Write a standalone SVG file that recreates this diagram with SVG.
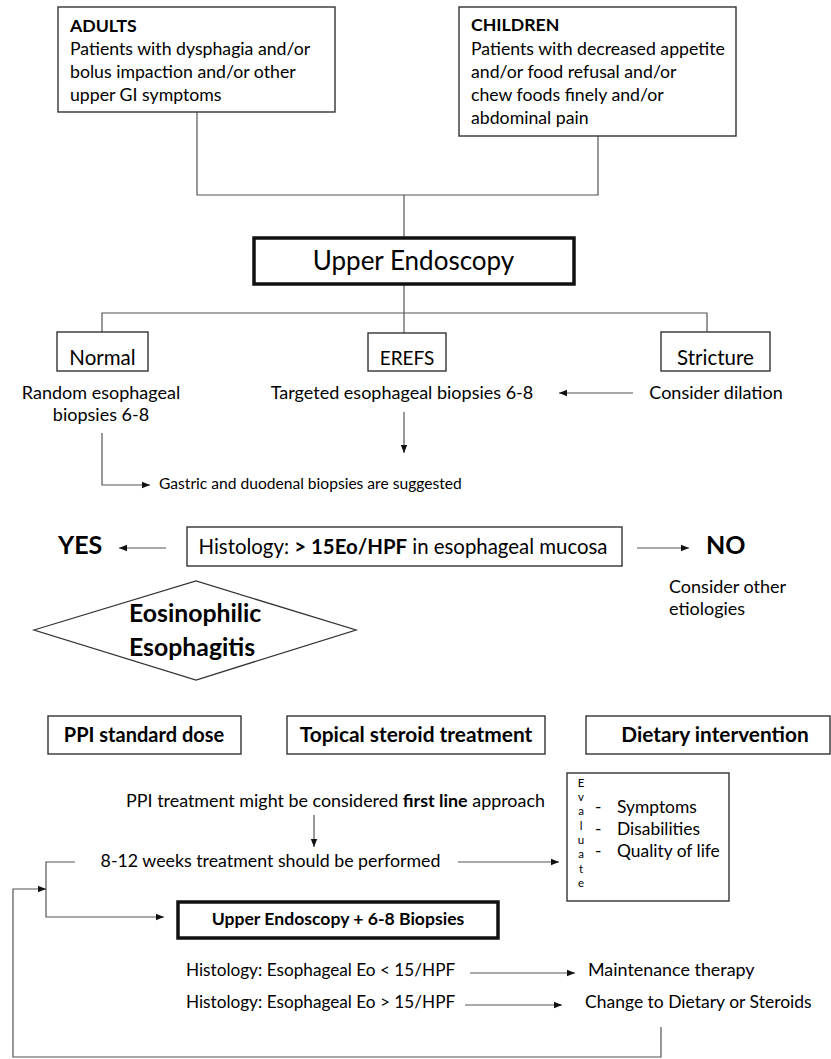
<svg xmlns="http://www.w3.org/2000/svg" width="831" height="1059" viewBox="0 0 831 1059">
<defs>
<style>
text{font-family:Lato,"Open Sans","Liberation Sans",sans-serif;fill:#000}
.box{fill:#fff;stroke:#333;stroke-width:1.4}
.thick{fill:#fff;stroke:#111;stroke-width:3.5}
.ln{fill:none;stroke:#555;stroke-width:1.2}
.arr{fill:none;stroke:#555;stroke-width:1.2;marker-end:url(#ah)}
.b{font-weight:bold}
.t16{font-size:17.7px}
.t20{font-size:20px}
.t18{font-size:18px}
.mid{text-anchor:middle}
</style>
<marker id="ah" viewBox="0 0 10 10" refX="10" refY="5" markerWidth="9" markerHeight="8" markerUnits="userSpaceOnUse" orient="auto"><path d="M0,1 L10,5 L0,9 z" fill="#111"/></marker>
</defs>
<rect width="831" height="1059" fill="#fff"/>

<g id="connectors">
<path class="ln" d="M197,112 V195 H598 V136"/>
<path class="ln" d="M404,195 V237"/>
<path class="ln" d="M404,285 V313"/>
<path class="ln" d="M102,332 V313 H707 V332"/>
<path class="ln" d="M404,313 V333"/>
<path class="arr" d="M633,393 H559"/>
<path class="arr" d="M404,412 V453"/>
<path class="arr" d="M102,433 V485 H150"/>
<path class="arr" d="M166,548 H119"/>
<path class="arr" d="M637,548 H689"/>
<path class="arr" d="M314,815 V847"/>
<path class="arr" d="M458,862 H559"/>
<path class="arr" d="M75,862 H46 V917 H164"/>
<path class="arr" d="M661,1027 V1057 H13 V889 H46"/>
<path class="arr" d="M470,973 H575"/>
<path class="arr" d="M465,1005 H562"/>
</g>

<g id="adults">
<rect class="box" x="58" y="7" width="277" height="105"/>
<text x="70" y="31.5" class="t16 b">ADULTS</text>
<text x="70" y="54.5" class="t16">Patients with dysphagia and/or</text>
<text x="70" y="77.5" class="t16">bolus impaction and/or other</text>
<text x="70" y="100.5" class="t16">upper GI symptoms</text>
</g>

<g id="children">
<rect class="box" x="459" y="7" width="277" height="129"/>
<text x="471" y="31" class="t16 b">CHILDREN</text>
<text x="471" y="54.5" class="t16">Patients with decreased appetite</text>
<text x="471" y="77.5" class="t16">and/or food refusal and/or</text>
<text x="471" y="100.5" class="t16">chew foods finely and/or</text>
<text x="471" y="123.5" class="t16">abdominal pain</text>
</g>

<g id="upper-endoscopy">
<rect class="thick" x="254" y="238" width="320" height="46"/>
<text x="413.5" y="270" class="mid" font-size="26">Upper Endoscopy</text>
</g>

<g id="normal">
<rect class="box" x="57" y="332" width="91" height="39"/>
<text x="102.5" y="365" class="mid" font-size="20.5">Normal</text>
</g>
<g id="erefs">
<rect class="box" x="368" y="333" width="78" height="38"/>
<text x="407" y="365" class="mid" font-size="19">EREFS</text>
</g>
<g id="stricture">
<rect class="box" x="661" y="332" width="109" height="39"/>
<text x="715.5" y="365" class="mid" font-size="20.5">Stricture</text>
</g>

<g id="random-biopsies">
<text x="101" y="399" class="mid t18">Random esophageal</text>
<text x="101" y="421" class="mid t18">biopsies 6-8</text>
</g>
<g id="targeted-biopsies">
<text x="402" y="399" class="mid t18">Targeted esophageal biopsies 6-8</text>
</g>
<g id="consider-dilation">
<text x="716" y="399" class="mid t18">Consider dilation</text>
</g>
<g id="gastric">
<text x="159" y="489" font-size="15.6">Gastric and duodenal biopsies are suggested</text>
</g>

<g id="histology">
<rect class="box" x="187" y="527" width="435" height="39"/>
<text x="403" y="554" class="mid" font-size="20.4">Histology: <tspan class="b">&gt; 15Eo/HPF</tspan> in esophageal mucosa</text>
</g>
<g id="yes"><text x="58" y="554" class="b" font-size="25">YES</text></g>
<g id="no"><text x="706" y="554" class="b" font-size="25">NO</text></g>
<g id="other-etiologies">
<text x="669" y="593" class="t18">Consider other</text>
<text x="669" y="615" class="t18">etiologies</text>
</g>

<g id="eoe">
<polygon points="34,630 196,581 356,630 196,680" fill="#fff" stroke="#333" stroke-width="1.3"/>
<text x="129" y="622" class="b" font-size="24.8">Eosinophilic</text>
<text x="129" y="656" class="b" font-size="24.8">Esophagitis</text>
</g>

<g id="ppi-dose">
<rect class="box" x="48" y="716" width="193" height="38"/>
<text x="144" y="742" class="mid b t20">PPI standard dose</text>
</g>
<g id="topical">
<rect class="box" x="287" y="716" width="258" height="38"/>
<text x="416" y="742" class="mid b" font-size="20.9">Topical steroid treatment</text>
</g>
<g id="dietary">
<rect class="box" x="586" y="716" width="244" height="38"/>
<text x="715" y="742" class="mid b" font-size="20.8">Dietary intervention</text>
</g>

<g id="ppi-first">
<text x="335.5" y="807" class="mid" font-size="17.9">PPI treatment might be considered <tspan class="b">first line</tspan> approach</text>
</g>
<g id="weeks">
<text x="270.5" y="867" class="mid" font-size="17.8">8-12 weeks treatment should be performed</text>
</g>

<g id="evaluate">
<rect class="box" x="567" y="773" width="162" height="128"/>
<g font-size="11.5" class="mid">
<text x="581" y="787" class="mid">E</text>
<text x="581" y="801" class="mid">v</text>
<text x="581" y="815" class="mid">a</text>
<text x="581" y="829.5" class="mid">l</text>
<text x="581" y="844" class="mid">u</text>
<text x="581" y="858" class="mid">a</text>
<text x="581" y="872.5" class="mid">t</text>
<text x="581" y="887" class="mid">e</text>
</g>
<text x="595" y="813" font-size="17.4">-</text>
<text x="595" y="835" font-size="17.4">-</text>
<text x="595" y="857" font-size="17.4">-</text>
<text x="617" y="813" font-size="17.4">Symptoms</text>
<text x="617" y="835" font-size="17.4">Disabilities</text>
<text x="617" y="857" font-size="17.4">Quality of life</text>
</g>

<g id="upper-endoscopy-biopsies">
<rect class="thick" x="178" y="902" width="320" height="36"/>
<text x="338" y="925" class="mid b" font-size="17.6">Upper Endoscopy + 6-8 Biopsies</text>
</g>

<g id="hist-low">
<text x="186" y="976" font-size="17.2">Histology: Esophageal Eo &lt; 15/HPF</text>
</g>
<g id="maintenance">
<text x="588" y="976" font-size="17.9">Maintenance therapy</text>
</g>
<g id="hist-high">
<text x="186" y="1008" font-size="17.2">Histology: Esophageal Eo &gt; 15/HPF</text>
</g>
<g id="change">
<text x="585" y="1008" font-size="17.5">Change to Dietary or Steroids</text>
</g>
</svg>
